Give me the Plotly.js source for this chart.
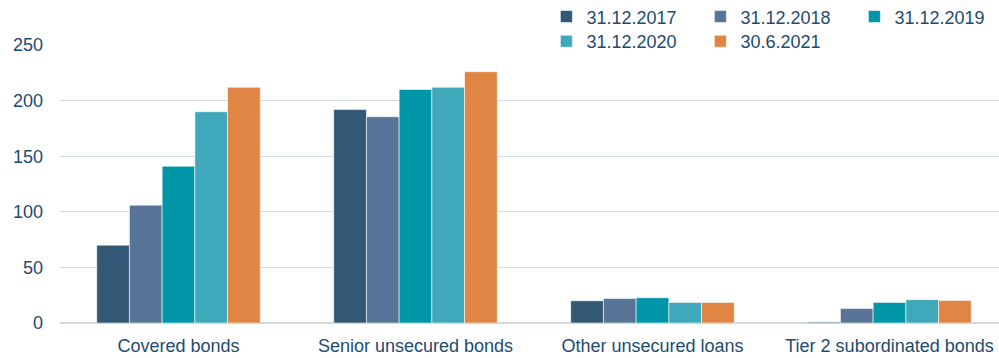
<!DOCTYPE html>
<html>
<head>
<meta charset="utf-8">
<script src="https://cdn.plot.ly/plotly-3.0.1.min.js"></script>
<style>html,body{margin:0;padding:0;background:#fff;}#chart{width:999px;height:358px;}</style>
</head>
<body>
<div id="chart"></div>
<script>
const categories = ["Covered bonds", "Senior unsecured bonds", "Other unsecured loans", "Tier 2 subordinated bonds"];
const seriesNames = ["31.12.2017", "31.12.2018", "31.12.2019", "31.12.2020", "30.6.2021"];
const v2017 = [70, 192, 20, 0.8];
const v2018 = [106, 185.5, 22, 13];
const v2019 = [141, 210, 22.7, 18.5];
const v2020 = [190, 212, 18.5, 21];
const v2021 = [212, 226, 18.5, 20.3];
const yTicks = [0, 50, 100, 150, 200, 250];

const values = [v2017, v2018, v2019, v2020, v2021];
const colors = ["#325876", "#587597", "#0096A8", "#3FA9BB", "#E08544"];
const textColor = "#1D4B70";
const font = "Liberation Sans, Arial, sans-serif";

const traces = seriesNames.map((name, i) => ({
  type: "bar",
  name: name,
  x: categories,
  y: values[i],
  marker: {color: colors[i], line: {color: "rgba(255,255,255,0.7)", width: 0.8}},
  legend: i < 3 ? "legend" : "legend2",
  hoverinfo: "skip"
}));

const legendCommon = {
  orientation: "h",
  xref: "paper", yref: "paper",
  xanchor: "left", yanchor: "top",
  font: {family: font, size: 18, color: textColor},
  bgcolor: "rgba(0,0,0,0)",
  entrywidth: 109,
  itemwidth: 30,
  tracegroupgap: 0,
  traceorder: "normal"
};

const layout = {
  width: 999, height: 358,
  margin: {l: 60, r: 0, t: 45, b: 35, autoexpand: false},
  paper_bgcolor: "#fff", plot_bgcolor: "#fff",
  font: {family: font, size: 18, color: textColor},
  barmode: "group",
  bargap: 0.31,
  bargroupgap: 0,
  showlegend: true,
  legend: Object.assign({}, legendCommon, {x: 0.518, y: 1.168}),
  legend2: Object.assign({}, legendCommon, {x: 0.518, y: 1.079}),
  xaxis: {
    type: "category",
    range: [-0.5, 3.462],
    showgrid: false, showline: false, zeroline: false,
    ticks: "",
    ticklabelstandoff: 10,
    tickfont: {family: font, size: 18, color: textColor}
  },
  yaxis: {
    range: [0, 250],
    tickvals: yTicks,
    ticktext: yTicks.map(String),
    showgrid: true, gridcolor: "#D3DAE2", gridwidth: 1,
    zeroline: true, zerolinecolor: "#D3D8DE", zerolinewidth: 2,
    showline: false, ticks: "",
    ticklabelstandoff: 16,
    tickfont: {family: font, size: 18, color: textColor}
  }
};

Plotly.newPlot("chart", traces, layout, {staticPlot: true, displayModeBar: false});
</script>
</body>
</html>
